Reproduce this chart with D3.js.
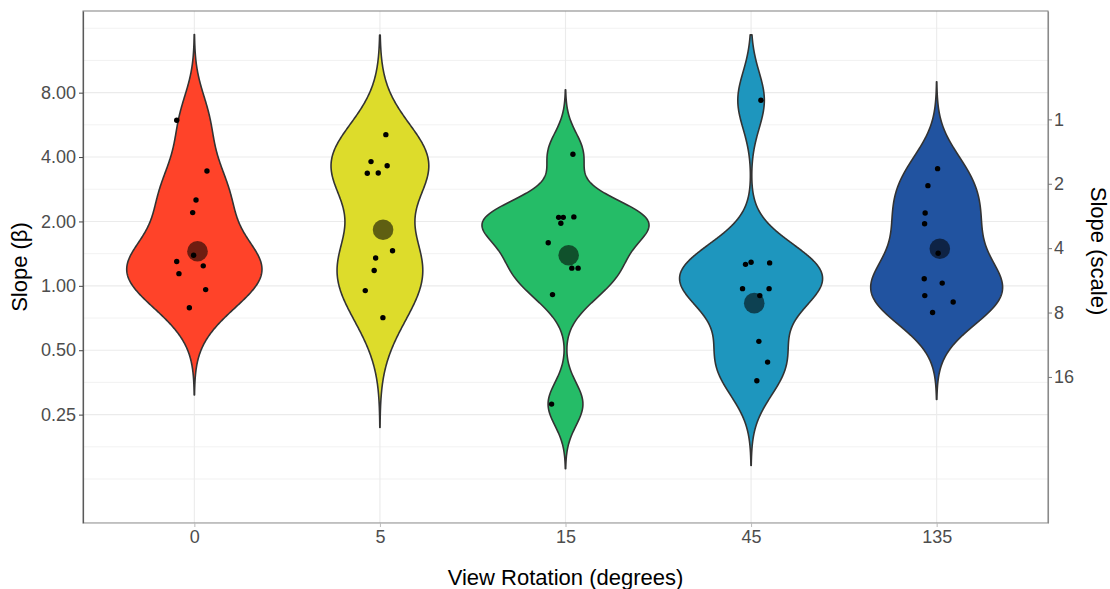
<!DOCTYPE html>
<html>
<head>
<meta charset="utf-8">
<script src="https://cdn.jsdelivr.net/npm/d3@7"></script>
<style>
  body { margin: 0; background: #fff; }
  text { font-family: "Liberation Sans", Arial, sans-serif; }
</style>
</head>
<body>
<div id="draw"></div>
<script>
// view rotation groups
const categories = ["0", "5", "15", "45", "135"];
const fills = ["#FF4329", "#DDDC2B", "#25BC67", "#1E96BE", "#2153A0"];

// slope (beta) of every participant, per group
const slope0   = [5.94, 3.44, 2.52, 2.20, 1.39, 1.30, 1.24, 1.14, 0.96, 0.79];
const slope5   = [5.09, 3.81, 3.64, 3.36, 3.37, 1.46, 1.35, 1.18, 0.95, 0.71];
const slope15  = [4.12, 2.09, 2.09, 2.10, 1.96, 1.59, 1.21, 1.21, 0.91, 0.28];
const slope45  = [7.37, 1.26, 1.29, 1.28, 0.97, 0.97, 0.90, 0.55, 0.44, 0.36];
const slope135 = [3.53, 2.94, 2.19, 1.95, 1.42, 1.08, 1.03, 0.90, 0.84, 0.75];

// horizontal jitter of each point (in category units)
const jitter0   = [-0.095, 0.068, 0.009, -0.009, -0.004, -0.095, 0.048, -0.083, 0.061, -0.027];
const jitter5   = [0.032, -0.048, 0.039, -0.068, -0.009, 0.068, -0.023, -0.031, -0.079, 0.016];
const jitter15  = [0.040, -0.037, -0.012, 0.045, -0.025, -0.093, 0.034, 0.068, -0.070, -0.075];
const jitter45  = [0.053, -0.030, 0.000, 0.100, -0.046, 0.097, 0.047, 0.042, 0.089, 0.031];
const jitter135 = [0.005, -0.047, -0.062, -0.065, 0.008, -0.067, 0.030, -0.064, 0.089, -0.022];

// group estimates (big circles)
const groupMeans = [1.45, 1.83, 1.39, 0.83, 1.49];

// axis ticks and limits
const slopeTicks = [0.25, 0.5, 1, 2, 4, 8];
const scaleTicks = [1, 2, 4, 8, 16];
const scaleFactor = 6;          // slope(scale) = 6 / beta
const yLimits = [0.1, 15];

const slopes = [slope0, slope5, slope15, slope45, slope135];
const jitters = [jitter0, jitter5, jitter15, jitter45, jitter135];

class ViolinRenderer {

    constructor(groups) {
        this.groups = groups;
    }

    render() {
        this._initVariable();
        this.vis = this._initSvg();
        this._initScales();
        this._drawGrid();
        this._drawViolins();
        this._drawPoints();
        this._drawAxes();
    }

    _initVariable() {
        this.w = 1110;
        this.h = 589;
        this.left = 83;
        this.right = 1048;
        this.top = 11;
        this.bottom = 523;
        this.violinWidth = 0.9;
        this.meanNudge = 0.017;
    }

    _initSvg() {
        return d3.select("#draw").append("svg")
            .attr("width", this.w)
            .attr("height", this.h);
    }

    _initScales() {
        this.x = d3.scalePoint()
            .domain(categories)
            .range([this.left, this.right])
            .padding(0.6);
        // 5% expansion of the limits, in log space
        const lo = Math.log2(yLimits[0]), hi = Math.log2(yLimits[1]);
        const pad = (hi - lo) * 0.05;
        this.domain = [Math.pow(2, lo - pad), Math.pow(2, hi + pad)];
        this.y = d3.scaleLog().base(2)
            .domain(this.domain)
            .range([this.bottom, this.top]);
        // secondary axis: scale = factor / slope
        this.y2 = d3.scaleLog().base(2)
            .domain([scaleFactor / this.domain[0], scaleFactor / this.domain[1]])
            .range([this.bottom, this.top]);
    }

    _drawGrid() {
        const g = this.vis.append("g");
        // minor breaks like ggplot: midpoints between (extended) majors
        const logs = slopeTicks.map(Math.log2);
        const step = logs[1] - logs[0];
        const ext = [logs[0] - step, ...logs, logs[logs.length - 1] + step];
        const minor = [];
        for (let i = 0; i < ext.length - 1; i++) minor.push(ext[i], (ext[i] + ext[i + 1]) / 2);
        minor.push(ext[ext.length - 1]);

        g.selectAll(".minor").data(minor.filter(d => !logs.includes(d)))
            .enter().append("line")
            .attr("x1", this.left).attr("x2", this.right)
            .attr("y1", d => this.y(Math.pow(2, d))).attr("y2", d => this.y(Math.pow(2, d)))
            .style("stroke", "#efefef").style("stroke-width", 0.8);

        g.selectAll(".major").data(slopeTicks)
            .enter().append("line")
            .attr("x1", this.left).attr("x2", this.right)
            .attr("y1", d => this.y(d)).attr("y2", d => this.y(d))
            .style("stroke", "#ebebeb").style("stroke-width", 1.1);

        g.selectAll(".vmajor").data(categories)
            .enter().append("line")
            .attr("y1", this.top).attr("y2", this.bottom)
            .attr("x1", d => this.x(d)).attr("x2", d => this.x(d))
            .style("stroke", "#ebebeb").style("stroke-width", 1.1);
    }

    /* gaussian kde in log2 space, bw.nrd0 and cut = 3 as in geom_violin */
    _density(values) {
        const v = values.map(Math.log2).sort(d3.ascending);
        const n = v.length;
        const sd = d3.deviation(v);
        const iqr = d3.quantile(v, 0.75) - d3.quantile(v, 0.25);
        const bw = 0.9 * Math.min(sd, iqr / 1.34) * Math.pow(n, -0.2);
        const from = v[0] - 3 * bw, to = v[n - 1] + 3 * bw;
        const out = [];
        for (let i = 0; i < 512; i++) {
            const t = from + (to - from) * i / 511;
            let s = 0;
            v.forEach(d => {
                const z = (t - d) / bw;
                s += Math.exp(-0.5 * z * z);
            });
            out.push({t: t, dens: s / (n * bw * Math.sqrt(2 * Math.PI))});
        }
        return out;
    }

    _drawViolins() {
        const dens = this.groups.map(d => this._density(d));
        const maxDens = d3.max(dens, d => d3.max(d, e => e.dens));
        const half = this.x.step() * this.violinWidth / 2;
        const lo = Math.log2(yLimits[0]), hi = Math.log2(yLimits[1]);

        dens.forEach((d, i) => {
            const cx = this.x(categories[i]);
            // rows outside the scale limits are dropped (like ggplot's censoring)
            const kept = d.filter(e => e.t >= lo && e.t <= hi);
            const area = d3.area()
                .y(e => this.y(Math.pow(2, e.t)))
                .x0(e => cx - e.dens / maxDens * half)
                .x1(e => cx + e.dens / maxDens * half);
            this.vis.append("path")
                .datum(kept)
                .attr("d", area)
                .style("fill", fills[i])
                .style("stroke", "#333333")
                .style("stroke-width", 1.6)
                .style("stroke-linejoin", "round");
        });
    }

    _drawPoints() {
        const step = this.x.step();
        this.groups.forEach((vals, i) => {
            const cx = this.x(categories[i]);
            this.vis.append("g").selectAll("circle")
                .data(vals)
                .enter().append("circle")
                .attr("cx", (d, j) => cx + jitters[i][j] * step)
                .attr("cy", d => this.y(d))
                .attr("r", 2.7)
                .style("fill", "#000");
        });

        this.vis.append("g").selectAll("circle")
            .data(groupMeans)
            .enter().append("circle")
            .attr("cx", (d, i) => this.x(categories[i]) + this.meanNudge * step)
            .attr("cy", d => this.y(d))
            .attr("r", 10.3)
            .style("fill", "#000")
            .style("fill-opacity", 0.57);
    }

    _drawAxes() {
        const textColor = "#4d4d4d";

        // panel border
        this.vis.append("rect")
            .attr("x", this.left).attr("y", this.top)
            .attr("width", this.right - this.left)
            .attr("height", this.bottom - this.top)
            .style("fill", "none")
            .style("stroke", "#8a8a8a")
            .style("stroke-width", 1.1);

        const left = this.vis.append("g")
            .attr("transform", "translate(" + this.left + ",0)")
            .call(d3.axisLeft(this.y).tickValues(slopeTicks)
                .tickFormat(d3.format(".2f")).tickSizeInner(4).tickSizeOuter(0).tickPadding(3));
        left.select(".domain").style("stroke", "#5a5a5a").style("stroke-width", 1.2);
        left.selectAll(".tick line").style("stroke", "#444");

        const right = this.vis.append("g")
            .attr("transform", "translate(" + this.right + ",0)")
            .call(d3.axisRight(this.y2).tickValues(scaleTicks)
                .tickFormat(d3.format("d")).tickSizeInner(4).tickSizeOuter(0).tickPadding(2));
        right.select(".domain").style("stroke", "#8a8a8a").style("stroke-width", 1.1);
        right.selectAll(".tick line").style("stroke", "#777");

        const bottom = this.vis.append("g")
            .attr("transform", "translate(0," + this.bottom + ")")
            .call(d3.axisBottom(this.x).tickSizeInner(4).tickSizeOuter(0).tickPadding(3));
        bottom.select(".domain").style("stroke", "#c8c8c8").style("stroke-width", 1.1);
        bottom.selectAll(".tick line").style("stroke", "#bbb");

        [left, right, bottom].forEach(a => a.selectAll(".tick text")
            .style("font-size", "18px")
            .style("font-family", "'Liberation Sans', Arial, sans-serif")
            .style("fill", textColor));

        // titles
        this.vis.append("text")
            .attr("transform", "translate(27," + (this.top + this.bottom) / 2 + ") rotate(-90)")
            .attr("text-anchor", "middle")
            .style("font-size", "22px")
            .text("Slope (β)");

        this.vis.append("text")
            .attr("transform", "translate(1091,251) rotate(90)")
            .attr("text-anchor", "middle")
            .style("font-size", "22px")
            .text("Slope (scale)");

        this.vis.append("text")
            .attr("x", (this.left + this.right) / 2)
            .attr("y", 585)
            .attr("text-anchor", "middle")
            .style("font-size", "22px")
            .text("View Rotation (degrees)");
    }
}

new ViolinRenderer(slopes).render();
</script>
</body>
</html>
